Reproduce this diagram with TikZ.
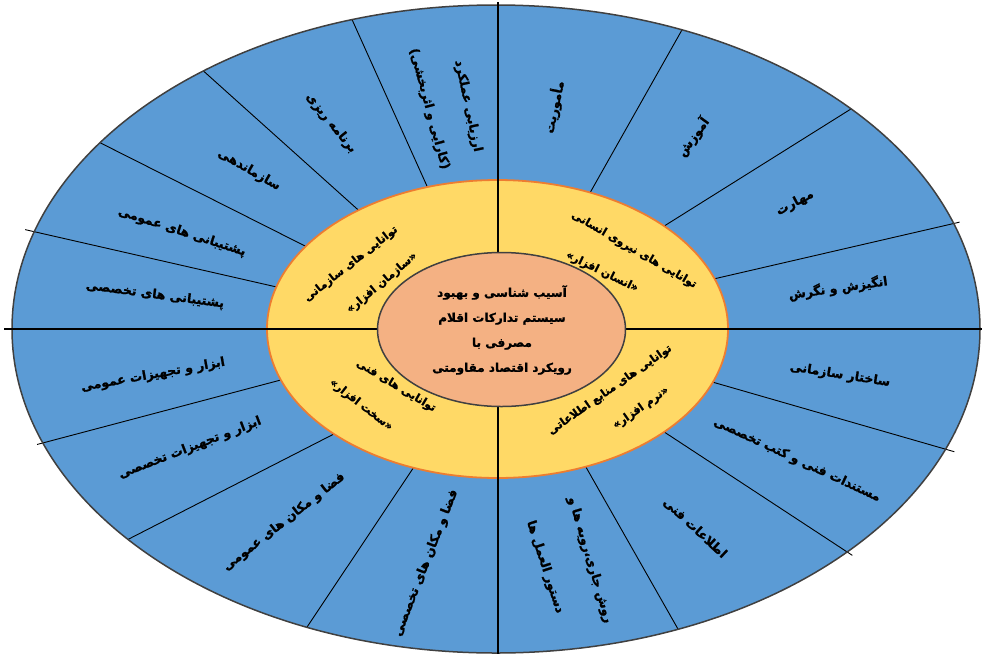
\documentclass[tikz,border=0pt]{standalone}
\usepackage{fontspec}
\newfontfamily\arabicfont[Script=Arabic, BoldFeatures={FakeBold=1.2}]{DejaVu Sans}
\TeXXeTstate=1
\definecolor{segblue}{HTML}{5B9BD5}
\definecolor{ringyellow}{HTML}{FFD966}
\definecolor{coreorange}{HTML}{F4B183}
\definecolor{ringedge}{HTML}{ED7D31}
\definecolor{rimgray}{HTML}{404040}
\newcommand{\fa}[1]{\beginR #1\endR}
\begin{document}
\begin{tikzpicture}[x=1pt,y=-1pt,
  lab/.style={font=\arabicfont\bfseries\fontsize{12.5}{15}\selectfont, inner sep=0pt},
  ringlab/.style={font=\arabicfont\bfseries\fontsize{11}{14}\selectfont, inner sep=0pt},
  corelab/.style={font=\arabicfont\bfseries\fontsize{12}{25}\selectfont, align=center, inner sep=0pt},
  spoke/.style={draw=black, line width=0.9pt},
  axisline/.style={draw=black, line width=2pt}]
\useasboundingbox (0,0) rectangle (982,654);
% outer blue disc
\fill[segblue] (496,329) ellipse [x radius=484, y radius=324];
% yellow ring
\fill[ringyellow] (497.5,329) ellipse [x radius=230.5, y radius=149];
% spokes
\foreach \ti/\to/\f [count=\i] in {107.7/107.3/1, 127.1/127.2/1, 146.3/144.9/1, 163.6/162.5/1.02,
  66.3/67.4/1, 43.7/42.8/1, 19.7/19/1.013,
  200/200.6/1.013, 224.8/220.5/1, 248.6/247/1,
  -20.9/-21.8/1.02, -43.7/-43.5/1.015, -67.5/-67.9/1} {
  \coordinate (in\i) at ({497.5+230.5*cos(\ti)}, {329-149*sin(\ti)});
  \coordinate (out\i) at ({496+484*\f*cos(\to)}, {329-324*\f*sin(\to)});
  \draw[spoke] (in\i) -- (out\i);
}
% borders
\draw[rimgray, line width=1.5pt] (496,329) ellipse [x radius=484, y radius=324];
\draw[ringedge, line width=1.8pt] (497.5,329) ellipse [x radius=230.5, y radius=149];
% axis lines
\coordinate (hl) at (4,328.5);
\coordinate (hr) at (982,328.5);
\coordinate (vt) at (497.5,2);
\coordinate (vb) at (497.5,654);
\draw[axisline] (hl) -- (hr);
\draw[axisline] (vt) -- (vb);
% core
\filldraw[fill=coreorange, draw=rimgray, line width=1.5pt] (501.5,329.5) ellipse [x radius=124, y radius=77];
\node[corelab] (core) at (502,330) {\fa{آسیب شناسی و بهبود}\\\fa{سیستم تدارکات اقلام}\\\fa{مصرفی با}\\\fa{رویکرد اقتصاد مقاومتی}};
% ring labels
\node[ringlab, rotate=38] (r1a) at (351,264) {\fa{توانایی های سازمانی}};
\node[ringlab, rotate=40] (r1b) at (382,283) {\fa{«سازمان افزار»}};
\node[ringlab, rotate=-30] (r2a) at (634,250) {\fa{توانایی های نیروی انسانی}};
\node[ringlab, rotate=-26] (r2b) at (602,272) {\fa{«انسان افزار»}};
\node[ringlab, rotate=-31] (r3a) at (396,386) {\fa{توانایی های فنی}};
\node[ringlab, rotate=-38] (r3b) at (361,405) {\fa{«سخت افزار»}};
\node[ringlab, rotate=35] (r4a) at (610,390) {\fa{توانایی های منابع اطلاعاتی}};
\node[ringlab, rotate=35] (r4b) at (641,408) {\fa{«نرم افزار»}};
% outer labels, upper right
\node[lab, rotate=78] (o1) at (554,107) {\fa{مأموریت}};
\node[lab, rotate=54] (o2) at (693,137) {\fa{آموزش}};
\node[lab, rotate=28] (o3) at (795,203) {\fa{مهارت}};
\node[lab, rotate=8] (o4) at (838,288) {\fa{انگیزش و نگرش}};
% lower right
\node[lab, rotate=-9] (o5) at (840,375) {\fa{ساختار سازمانی}};
\node[lab, rotate=-25] (o6) at (797,460) {\fa{مستندات فنی و کتب تخصصی}};
\node[lab, rotate=-43] (o7) at (695,528) {\fa{اطلاعات فنی}};
\node[lab, rotate=-73.5] (o8a) at (590,560) {\fa{روش جاری،رویه ها و}};
\node[lab, rotate=-72] (o8b) at (545,567) {\fa{دستور العمل ها}};
% lower left
\node[lab, rotate=68.6] (o9) at (426,563) {\fa{فضا و مکان های تخصصی}};
\node[lab, rotate=38] (o10) at (284,522) {\fa{فضا و مکان های عمومی}};
\node[lab, rotate=21] (o11) at (190,448) {\fa{ابزار و تجهیزات تخصصی}};
\node[lab, rotate=10] (o12) at (153,375) {\fa{ابزار و تجهیزات عمومی}};
% upper left
\node[lab, rotate=-7.6] (o13) at (155,295) {\fa{پشتیبانی های تخصصی}};
\node[lab, rotate=-18] (o14) at (182,232) {\fa{پشتیبانی های عمومی}};
\node[lab, rotate=-30] (o15) at (249,170) {\fa{سازماندهی}};
\node[lab, rotate=-51] (o16) at (331,123) {\fa{برنامه ریزی}};
\node[lab, rotate=-78] (o17a) at (468,106) {\fa{ارزیابی عملکرد}};
\node[lab, rotate=-75] (o17b) at (429,109) {\fa{(کارایی و اثربخشی)}};
\end{tikzpicture}
\end{document}
